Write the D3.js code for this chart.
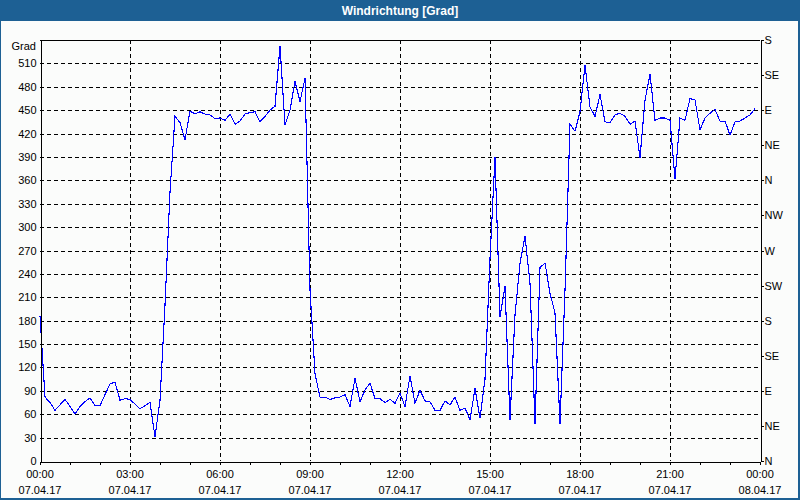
<!DOCTYPE html>
<html><head><meta charset="utf-8">
<script src="https://cdn.jsdelivr.net/npm/d3@7"></script>
<style>body{margin:0;background:#fff}svg{display:block}</style>
</head><body>
<svg id="c" width="800" height="500"></svg>
<script>
// ---- data ----
const chartTitle = "Windrichtung [Grad]";
const yUnit = "Grad";
const startTime = new Date(2017, 3, 7, 0, 0);
const endTime = new Date(2017, 3, 8, 0, 0);
const stepMinutes = 10;
const values = [
  186, 82, 75, 65, 72, 79, 70, 60, 70, 76,
  81, 71, 71, 85, 99, 101, 78, 80, 79, 73,
  67, 71, 75, 31, 78, 200, 345, 442, 434, 412,
  449, 445, 448, 445, 444, 439, 440, 437, 445, 432,
  436, 445, 447, 448, 435, 442, 450, 455, 532, 431,
  450, 487, 461, 491, 220, 112, 82, 82, 79, 81,
  82, 85, 70, 106, 76, 91, 100, 80, 80, 75,
  79, 74, 87, 70, 109, 74, 91, 77, 76, 65,
  65, 77, 72, 82, 65, 68, 53, 93, 55, 105,
  260, 390, 185, 224, 53, 187, 254, 288, 228, 48,
  248, 254, 215, 190, 48, 219, 432, 423, 448, 508,
  454, 442, 470, 435, 434, 444, 446, 442, 432, 436,
  389, 463, 496, 437, 440, 440, 437, 362, 440, 437,
  465, 463, 425, 440, 446, 451, 436, 436, 418, 435,
  436, 440, 444, 452
];
const yTicks = [0, 30, 60, 90, 120, 150, 180, 210, 240, 270, 300, 330, 360, 390, 420, 450, 480, 510];
const dirTicks = [0, 45, 90, 135, 180, 225, 270, 315, 360, 405, 450, 495, 540];
const dirLabels = ["N", "NE", "E", "SE", "S", "SW", "W", "NW", "N", "NE", "E", "SE", "S"];
const timeLabels = ["00:00", "03:00", "06:00", "09:00", "12:00", "15:00", "18:00", "21:00", "00:00"];
const dateLabels = ["07.04.17", "07.04.17", "07.04.17", "07.04.17", "07.04.17", "07.04.17", "07.04.17", "07.04.17", "08.04.17"];

// ---- layout ----
const W = 800, H = 500;
const L = 40, R = 760, T = 40, B = 461;
const FONT = "'Liberation Sans', Arial, sans-serif";

const svg = d3.select("#c");
svg.append("rect").attr("width", W).attr("height", H).attr("fill", "#1d6094");
svg.append("rect").attr("x", 1).attr("y", 21).attr("width", 797).attr("height", 477).attr("fill", "#fbfcfb");
svg.append("text").attr("x", 400).attr("y", 15).attr("text-anchor", "middle")
  .attr("fill", "#fff").attr("font-family", FONT).attr("font-weight", "bold").attr("font-size", 12)
  .text(chartTitle);

const pts = values.map((v, i) => ({ t: new Date(startTime.getTime() + i * stepMinutes * 60000), v }));

const x = d3.scaleTime().domain([startTime, endTime]).range([L, R]);
const y = d3.scaleLinear().domain([0, 540]).range([B, T]);

const majorTimes = timeLabels.map((_, i) => new Date(startTime.getTime() + i * 3 * 3600000));
const hourTimes = d3.timeHour.range(startTime, d3.timeHour.offset(endTime, 1));

const g = svg.append("g").attr("shape-rendering", "crispEdges");

// horizontal grid
g.selectAll(".hg").data(yTicks.filter(d => d > 0)).join("line")
  .attr("x1", L).attr("x2", R)
  .attr("y1", d => Math.round(y(d)) + 0.5).attr("y2", d => Math.round(y(d)) + 0.5)
  .attr("stroke", "#000").attr("stroke-dasharray", "4,3");
// vertical grid
g.selectAll(".vg").data(majorTimes.slice(1, -1)).join("line")
  .attr("y1", T).attr("y2", B)
  .attr("x1", d => Math.round(x(d)) + 0.5).attr("x2", d => Math.round(x(d)) + 0.5)
  .attr("stroke", "#000").attr("stroke-dasharray", "4,3");

// data line
const line = d3.line().x(d => x(d.t)).y(d => y(d.v));
svg.append("path").datum(pts).attr("d", line)
  .attr("fill", "none").attr("stroke", "#0000ff").attr("stroke-width", 1.1)
  .attr("shape-rendering", "crispEdges");

// frame
g.append("line").attr("x1", L).attr("x2", R).attr("y1", T + 0.5).attr("y2", T + 0.5).attr("stroke", "#000");

// left axis
const yAxis = d3.axisLeft(y).tickValues(yTicks).tickSize(0).tickPadding(4);
const ya = svg.append("g").attr("transform", `translate(${L + 0.5},0)`).call(yAxis);
ya.select(".domain").attr("stroke", "#000").attr("shape-rendering", "crispEdges");
ya.selectAll("text").attr("font-family", FONT).attr("font-size", 11).attr("fill", "#000");
svg.append("text").attr("x", 36).attr("y", 50).attr("text-anchor", "end")
  .attr("font-family", FONT).attr("font-size", 11).attr("fill", "#000").text(yUnit);

// right axis
const yR = d3.axisRight(y).tickValues(dirTicks).tickSize(3).tickPadding(1)
  .tickFormat((d, i) => dirLabels[i]);
const yra = svg.append("g").attr("transform", `translate(${R + 0.5},0)`).call(yR);
yra.select(".domain").attr("stroke", "#000").attr("shape-rendering", "crispEdges");
yra.selectAll("line").attr("stroke", "#000").attr("shape-rendering", "crispEdges");
yra.selectAll("text").attr("font-family", FONT).attr("font-size", 11).attr("fill", "#000");

// bottom axis
const xAxis = d3.axisBottom(x).tickValues(hourTimes).tickSize(3).tickFormat("");
const xa = svg.append("g").attr("transform", `translate(0,${B + 0.5})`).call(xAxis);
xa.select(".domain").attr("stroke", "#000").attr("shape-rendering", "crispEdges");
xa.selectAll("line").attr("stroke", "#000").attr("shape-rendering", "crispEdges");

svg.append("g").selectAll("text").data(majorTimes).join("text")
  .attr("x", d => x(d)).attr("y", 478).attr("text-anchor", "middle")
  .attr("font-family", FONT).attr("font-size", 11).attr("fill", "#000")
  .text((d, i) => timeLabels[i]);
svg.append("g").selectAll("text").data(majorTimes).join("text")
  .attr("x", d => x(d)).attr("y", 494).attr("text-anchor", "middle")
  .attr("font-family", FONT).attr("font-size", 11).attr("fill", "#000")
  .text((d, i) => dateLabels[i]);
</script>
</body></html>
